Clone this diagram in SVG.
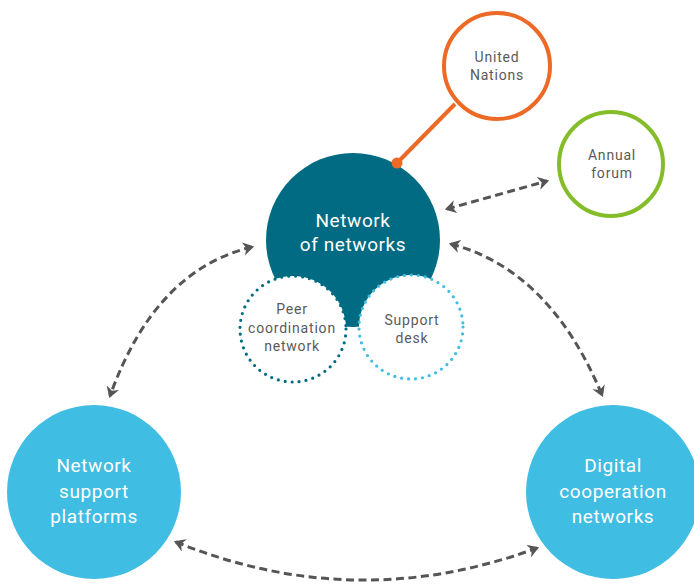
<svg xmlns="http://www.w3.org/2000/svg" width="694" height="587" viewBox="0 0 694 587">
<defs>
<marker id="ah" viewBox="0 0 10 12" refX="8" refY="6" markerWidth="3.7" markerHeight="4.6" orient="auto-start-reverse" markerUnits="strokeWidth">
<path d="M0,0 L10,6 L0,12 L3,6 Z" fill="#555"/>
</marker>
</defs>
<style>
.conn{fill:none;stroke:#555;stroke-width:3;stroke-dasharray:8 4.5;marker-start:url(#ah);marker-end:url(#ah)}
.big{font-family:Roboto,"Liberation Sans",sans-serif;font-size:19px;fill:#fff;text-anchor:middle;letter-spacing:0.6px}
.small{font-family:Roboto,"Liberation Sans",sans-serif;font-size:14px;fill:#5a5a5a;text-anchor:middle;letter-spacing:0.8px}
.dot{fill:#fff;stroke-width:3.2;stroke-linecap:round;stroke-dasharray:0 7}
</style>
<rect width="694" height="587" fill="#fff"/>
<g id="connectors">
<line x1="455" y1="104" x2="397" y2="163" stroke="#ec6a26" stroke-width="4"/>
<path class="conn" d="M447,209 L547,181"/>
<path class="conn" d="M252,247 Q155,270 110,396"/>
<path class="conn" d="M451,244 Q550,270 602,395"/>
<path class="conn" d="M176,542 Q356,615 537,548"/>
</g>
<g id="network-of-networks">
<circle cx="353" cy="240" r="87" fill="#006b82"/>
<text class="big" x="353" y="227">Network</text>
<text class="big" x="353" y="251">of networks</text>
</g>
<circle cx="397" cy="163" r="5.5" fill="#ec6a26"/>
<g id="peer-coordination-network">
<circle class="dot" cx="293" cy="329" r="53" stroke="#006b82"/>
<text class="small" x="292" y="314">Peer</text>
<text class="small" x="292" y="333">coordination</text>
<text class="small" x="292" y="351">network</text>
</g>
<g id="support-desk">
<circle class="dot" cx="411" cy="327" r="52" stroke="#3fbde3"/>
<text class="small" x="412" y="325">Support</text>
<text class="small" x="412" y="343">desk</text>
</g>
<g id="united-nations">
<circle cx="497" cy="66" r="53" fill="#fff" stroke="#ec6a26" stroke-width="4"/>
<text class="small" x="497" y="62">United</text>
<text class="small" x="497" y="80">Nations</text>
</g>
<g id="annual-forum">
<circle cx="611" cy="164" r="52" fill="#fff" stroke="#84bd29" stroke-width="4"/>
<text class="small" x="612" y="160">Annual</text>
<text class="small" x="612" y="178">forum</text>
</g>
<g id="network-support-platforms">
<circle cx="94" cy="492" r="87" fill="#3fbde3"/>
<text class="big" x="94" y="472">Network</text>
<text class="big" x="94" y="498">support</text>
<text class="big" x="94" y="523">platforms</text>
</g>
<g id="digital-cooperation-networks">
<circle cx="613" cy="492" r="87" fill="#3fbde3"/>
<text class="big" x="613" y="472">Digital</text>
<text class="big" x="613" y="498">cooperation</text>
<text class="big" x="613" y="523">networks</text>
</g>
</svg>
